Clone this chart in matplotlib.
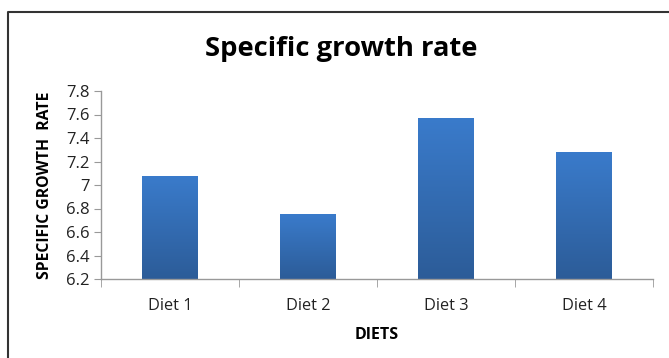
import matplotlib
matplotlib.use("Agg")
import matplotlib.pyplot as plt
import numpy as np
from matplotlib.colors import LinearSegmentedColormap
from matplotlib.lines import Line2D

categories = ["Diet 1", "Diet 2", "Diet 3", "Diet 4"]
values = [7.07, 6.75, 7.57, 7.28]
yticks = [6.2, 6.4, 6.6, 6.8, 7.0, 7.2, 7.4, 7.6, 7.8]
ytick_labels = ["6.2", "6.4", "6.6", "6.8", "7", "7.2", "7.4", "7.6", "7.8"]

plt.rcParams['font.family'] = ['Open Sans', 'DejaVu Sans']

fig = plt.figure(figsize=(6.69, 3.58), dpi=100)
ax = fig.add_axes([101/669, 1-279/358, (653-101)/669, (279-91)/358])

ymin, ymax = 6.2, 7.8
x = np.arange(len(categories))
bars = ax.bar(x, [v - ymin for v in values], bottom=ymin, width=0.4, color='none', edgecolor='none')

cmap = LinearSegmentedColormap.from_list("g", ["#2C5C98", "#3A7BCB"])
grad = np.linspace(0, 1, 256).reshape(-1, 1)
for b in bars:
    x0, y0 = b.get_x(), b.get_y()
    w, h = b.get_width(), b.get_height()
    ax.imshow(grad, extent=[x0, x0 + w, y0, y0 + h], origin='lower', cmap=cmap,
              aspect='auto', zorder=2)

ax.set_xlim(-0.5, len(categories) - 0.5)
ax.set_ylim(ymin, ymax)
ax.set_yticks(yticks)
ax.set_yticklabels(ytick_labels)
ax.set_xticks(x)
ax.set_xticklabels(categories)
ax.set_xticks(np.arange(-0.5, len(categories)), minor=True)
ax.tick_params(axis='x', which='major', length=0, pad=14, labelsize=11.8, labelcolor='#222222')
ax.tick_params(axis='x', which='minor', length=6, color='#999999', direction='out')
ax.tick_params(axis='y', length=5, color='#999999', labelsize=12, labelcolor='#222222', pad=3)
for s in ['top', 'right']:
    ax.spines[s].set_visible(False)
for s in ['left', 'bottom']:
    ax.spines[s].set_color('#999999')
    ax.spines[s].set_linewidth(1)

ax.set_xlabel("DIETS", fontweight='bold', fontsize=11.5, labelpad=9)
ax.set_ylabel("SPECIFIC GROWTH  RATE", fontweight='bold', fontsize=11.3)
ax.yaxis.set_label_coords((45 - 101) / 552, 0.5)
ax.yaxis.label.set_va('center')

fig.text(341/669, 1-49/358, "Specific growth rate", ha='center', va='center',
         fontsize=19.7, fontweight='bold', color='black')

# chart border (left and top)
fig.add_artist(Line2D([7.5/669, 7.5/669, 1.0], [0, 1-11.5/358, 1-11.5/358],
                      transform=fig.transFigure, color='#333333', linewidth=1.5))

fig.savefig("out.png", dpi=100)
